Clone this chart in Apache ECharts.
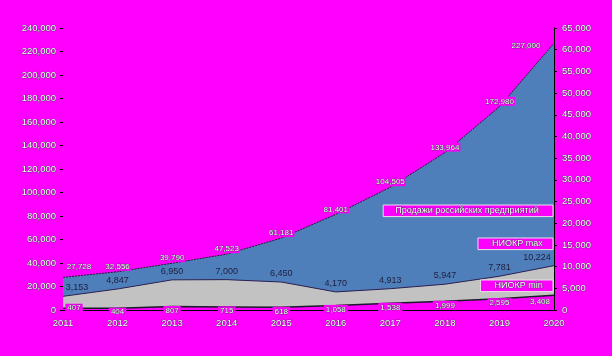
<!DOCTYPE html>
<html><head><meta charset="utf-8">
<script src="https://cdn.jsdelivr.net/npm/echarts@6/dist/echarts.min.js"></script>
<style>html,body{margin:0;padding:0;background:#ff00ff;}#c{width:612px;height:356px;}</style>
</head><body><div id="c"></div>
<script>
var years = ['2011','2012','2013','2014','2015','2016','2017','2018','2019','2020'];
var sales = [27728, 32556, 39790, 47523, 61181, 81401, 104505, 133964, 172980, 227000];
var rndMax = [3153, 4847, 6950, 7000, 6450, 4170, 4913, 5947, 7781, 10224];
var rndMin = [407, 404, 807, 715, 618, 1058, 1538, 1999, 2595, 3408];
var leftTicks = {min: 0, max: 240000, interval: 20000};
var rightTicks = {min: 0, max: 65000, interval: 5000};
var names = ['Продажи российских предприятий', 'НИОКР max', 'НИОКР min'];

var FONT = 'Liberation Sans';
function fmt(v){ return v.toLocaleString('en-US'); }
var txt = {color:'#ffffff', fontFamily:FONT, fontSize:9.5, textBorderColor:'#2a2a40', textBorderWidth:0.6};

function withOffsets(arr, first, last){
  return arr.map(function(v,i){
    var d = {value:v};
    if(i===0) d.label = {offset:first};
    if(i===arr.length-1) d.label = {offset:last};
    return d;
  });
}
var hiddenSym = {symbol:'circle', symbolSize:0.01, showSymbol:true, itemStyle:{color:'rgba(0,0,0,0)', borderWidth:0}};
var legendText = {color:'#fff', fontFamily:FONT, fontSize:9, textBorderColor:'#2a2a40', textBorderWidth:0.6};

var chart = echarts.init(document.getElementById('c'), null, {renderer:'canvas'});
chart.setOption({
  backgroundColor:'#ff00ff',
  animation:false,
  grid:{left:63, right:58, top:28, bottom:46, containLabel:false},
  legend:[
    {data:[names[0]], right:59, top:205, orient:'vertical', backgroundColor:'#ff00ff', borderColor:'#e8e0e8', borderWidth:1, padding:[1,14,1,6], itemWidth:0, itemHeight:0, itemGap:0, textStyle:legendText},
    {data:[names[1]], right:59, top:238, orient:'vertical', backgroundColor:'#ff00ff', borderColor:'#e8e0e8', borderWidth:1, padding:[1,10,1,8], itemWidth:0, itemHeight:0, itemGap:0, textStyle:legendText},
    {data:[names[2]], right:59, top:280, orient:'vertical', backgroundColor:'#ff00ff', borderColor:'#e8e0e8', borderWidth:1, padding:[1,10,1,8], itemWidth:0, itemHeight:0, itemGap:0, textStyle:legendText}
  ],
  xAxis:{
    type:'category', data:years, boundaryGap:false,
    axisLine:{lineStyle:{color:'#000', width:1}},
    axisTick:{show:false},
    axisLabel:Object.assign({margin:8}, txt)
  },
  yAxis:[
    {type:'value', min:leftTicks.min, max:leftTicks.max, interval:leftTicks.interval, position:'left',
     splitLine:{show:false},
     axisLine:{show:false},
     axisTick:{show:true, length:3, lineStyle:{color:'#000'}},
     axisLabel:Object.assign({margin:7, formatter:fmt}, txt)},
    {type:'value', min:rightTicks.min, max:rightTicks.max, interval:rightTicks.interval, position:'right',
     splitLine:{show:false},
     axisLine:{show:true, lineStyle:{color:'#000', width:1}},
     axisTick:{show:true, length:3, lineStyle:{color:'#000'}},
     axisLabel:Object.assign({margin:8, formatter:fmt}, txt)}
  ],
  series:[
    Object.assign({name:names[0], type:'line', yAxisIndex:0, data:withOffsets(sales,[16,-6],[-28,8]), z:1,
     lineStyle:{color:'#1c1c2c', width:1, type:[2,1]},
     areaStyle:{color:'#4f7fbb', opacity:1},
     label:{show:true, position:'top', distance:1, formatter:function(p){return fmt(p.value);},
       color:'#fff', fontFamily:FONT, fontSize:8, textBorderColor:'#2a2a40', textBorderWidth:0.6,
       backgroundColor:'#ff00ff', padding:[1,1,0,1]}}, hiddenSym),
    Object.assign({name:names[1], type:'line', yAxisIndex:1, data:withOffsets(rndMax,[14,0],[-17,0]), z:2,
     lineStyle:{color:'#2a2050', width:1},
     areaStyle:{color:'#c2c2c2', opacity:1},
     label:{show:true, position:'top', distance:4, formatter:function(p){return fmt(p.value);},
       color:'#1e1e3c', fontFamily:FONT, fontSize:9}}, hiddenSym),
    Object.assign({name:names[2], type:'line', yAxisIndex:1, data:withOffsets(rndMin,[11,0],[-14,7]), z:3,
     lineStyle:{color:'#1a1a2a', width:1.5},
     areaStyle:{color:'#ff00ff', opacity:1},
     label:{show:true, position:'inside', offset:[0,4], formatter:function(p){return fmt(p.value);},
       color:'#fff', fontFamily:FONT, fontSize:8, textBorderColor:'#2a2a40', textBorderWidth:0.6,
       backgroundColor:'#ff00ff', padding:[1,2,0,2]}}, hiddenSym)
  ]
});
</script></body></html>
